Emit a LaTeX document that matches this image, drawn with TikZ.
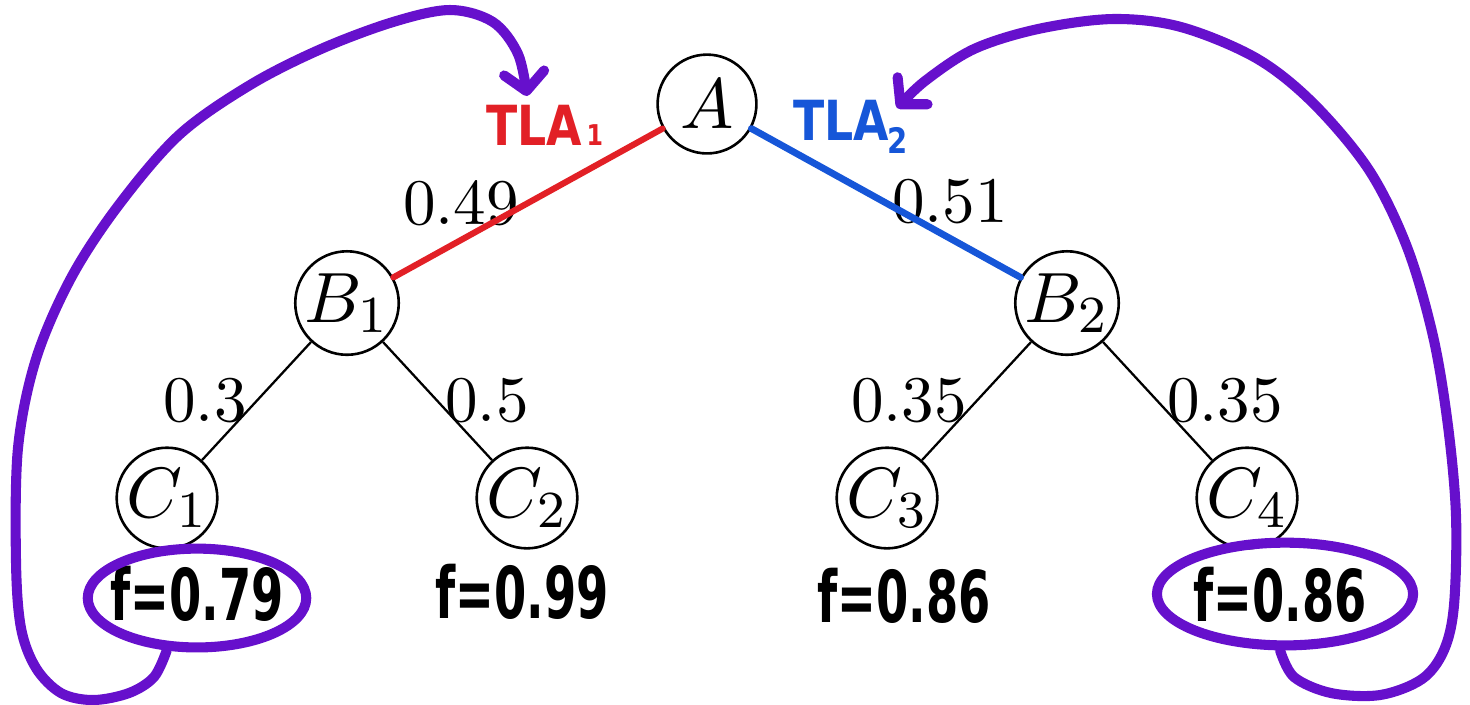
\documentclass[tikz,border=0pt]{standalone}
\usepackage{fontspec}
\newfontfamily\handfont[FakeStretch=0.72]{DejaVu Sans Condensed Bold}
\newfontfamily\tlafont[FakeStretch=0.92]{DejaVu Sans Condensed Bold}
\usetikzlibrary{shapes.geometric,arrows.meta}
\definecolor{tlared}{RGB}{226,32,38}
\definecolor{tlablue}{RGB}{22,86,216}
\definecolor{markpurple}{RGB}{102,16,204}
\tikzset{
  treenode/.style={circle,draw,line width=0.4pt,minimum size=15.2pt,inner sep=0pt,
    font=\fontsize{10.8pt}{13pt}\selectfont},
  edge/.style={line width=0.35pt},
  prob/.style={inner sep=0pt,font=\fontsize{10pt}{12pt}\selectfont},
  fval/.style={inner sep=0pt,font=\handfont\fontsize{11pt}{13pt}\selectfont},
  ring/.style={ellipse,draw=markpurple,line width=1.55pt,inner sep=0pt},
  tla/.style={inner sep=0pt,font=\tlafont\fontsize{8.5pt}{10pt}\selectfont},
  pathpen/.style={line width=0.95pt,line cap=round},
  markpen/.style={draw=markpurple,line width=1.55pt,line cap=round,line join=round,
    -{Straight Barb[length=2.8pt,width=6.2pt,round]}},
}
\begin{document}
\begin{tikzpicture}[x=0.1538pt,y=-0.1538pt]
\useasboundingbox (0,0) rectangle (1470,704);

% tree
\node[treenode] (A)  at (707,104) {$A$};
\node[treenode] (B1) at (347,303) {$B_1$};
\node[treenode] (B2) at (1067,303) {$B_2$};
\node[treenode] (C1) at (167,498) {$C_1$};
\node[treenode] (C2) at (527,498) {$C_2$};
\node[treenode] (C3) at (887,498) {$C_3$};
\node[treenode] (C4) at (1247,498) {$C_4$};

\draw[edge] (A) -- (B1);
\draw[edge] (A) -- (B2);
\draw[edge] (B1) -- (C1);
\draw[edge] (B1) -- (C2);
\draw[edge] (B2) -- (C3);
\draw[edge] (B2) -- (C4);

% edge probabilities
\node[prob] (pAB1)  at (461,203) {0.49};
\node[prob] (pAB2)  at (950,202) {0.51};
\node[prob] (pB1C1) at (205,401) {0.3};
\node[prob] (pB1C2) at (487,401) {0.5};
\node[prob] (pB2C3) at (909,401) {0.35};
\node[prob] (pB2C4) at (1225,401) {0.35};

% highlighted top-level branches
\draw[pathpen,tlared]  (A) -- (B1);
\draw[pathpen,tlablue,line width=1.05pt] (A) -- (B2);
\node[tla,text=tlared,anchor=base west] (tla1) at (485,145)
  {TLA\hspace{0.7pt}{\fontsize{4.4pt}{5pt}\selectfont 1}};
\node[tla,text=tlablue,anchor=base west] (tla2) at (792,140)
  {TLA\hspace{-0.2pt}\raisebox{-2pt}{\fontsize{5.4pt}{6pt}\selectfont 2}};

% leaf values
\node[fval] (f1) at (197,594) {f=0.79};
\node[fval] (f2) at (522,592) {f=0.99};
\node[fval] (f3) at (904,596) {f=0.86};
\node[fval] (f4) at (1280,595) {f=0.86};

% best leaf of each branch, fed back to its branch
\node[ring,minimum width=33.6pt,minimum height=15.2pt] (r1) at (197,598) {};
\node[ring,minimum width=39.4pt,minimum height=15.8pt] (r4) at (1285,594) {};

\draw[markpen] plot[smooth,tension=0.55] coordinates {
  (r1.240) (154,677) (129,693) (93,700) (61,693) (36,668) (21,628) (16,561)
  (18,448) (36,359) (71,278) (118,206) (179,135) (250,85) (321,49)
  (393,22) (450,10) (493,22) (518,54) (527,96)};
\draw[markpen] plot[smooth,tension=0.55] coordinates {
  (r4.265) (1294,677) (1331,693) (1380,695) (1422,679) (1444,650) (1454,605)
  (1456,516) (1448,426) (1433,336) (1407,247) (1369,170) (1313,103)
  (1256,58) (1181,27) (1113,19) (1038,29) (974,49) (925,81) (897,108)};
\end{tikzpicture}
\end{document}
